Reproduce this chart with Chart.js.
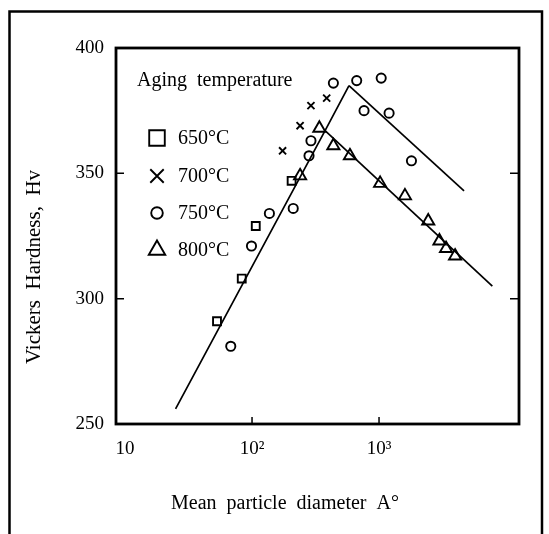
<!DOCTYPE html>
<html>
<head>
<meta charset="utf-8">
<script src="https://cdn.jsdelivr.net/npm/chart.js@4/dist/chart.umd.min.js"></script>
<style>
  html, body { margin: 0; padding: 0; background: #fff; }
  #wrap { width: 549px; height: 534px; position: relative; }
</style>
</head>
<body>
<div id="wrap"><canvas id="c" width="549" height="534"></canvas></div>
<script>
// ---- data ----
const xTickValues = [10, 100, 1000];
const xTickLabels = ['10', '10²', '10³'];
const yTickValues = [250, 300, 350, 400];

const legendTitle = 'Aging  temperature';
const seriesNames = ['650°C', '700°C', '750°C', '800°C'];

const s650_x = [53, 83, 107, 205];
const s650_y = [291, 308, 329, 347];

const s700_x = [174, 239, 291, 387];
const s700_y = [359, 369, 377, 380];

const s750_x = [68, 99, 137, 211, 281, 291, 437, 667, 1040, 762, 1200, 1800];
const s750_y = [281, 321, 334, 336, 357, 363, 386, 387, 388, 375, 374, 355];

const s800_x = [239, 339, 437, 590, 1020, 1600, 2440, 2990, 3370, 3970];
const s800_y = [349, 368, 361, 357, 346, 341, 331, 323, 320, 317];

const riseLine_x = [25, 376, 580];
const riseLine_y = [256, 367, 385];
const upperFall_x = [580, 4670];
const upperFall_y = [385, 343];
const lowerFall_x = [376, 7800];
const lowerFall_y = [367, 305];

const xTitle = 'Mean  particle  diameter  A°';
const yTitle = 'Vickers  Hardness,  Hv';

// ---- helpers ----
const pts = (xs, ys) => xs.map((x, i) => ({x: x, y: ys[i]}));
const FONT = '"Liberation Serif", "DejaVu Serif", serif';

const markerStyles = [
  {pointStyle: 'rect', radius: 5.6, legendRadius: 11},
  {pointStyle: 'crossRot', radius: 5, legendRadius: 9.5},
  {pointStyle: 'circle', radius: 4.6, legendRadius: 5.8},
  {pointStyle: 'triangle', radius: 7, legendRadius: 9.5}
];
const seriesData = [pts(s650_x, s650_y), pts(s700_x, s700_y), pts(s750_x, s750_y), pts(s800_x, s800_y)];

const datasets = [];
[ [riseLine_x, riseLine_y], [upperFall_x, upperFall_y], [lowerFall_x, lowerFall_y] ].forEach(l => {
  datasets.push({
    data: pts(l[0], l[1]), showLine: true, pointRadius: 0, borderColor: '#000',
    borderWidth: 1.7, fill: false, tension: 0
  });
});
seriesData.forEach((d, i) => {
  datasets.push({
    label: seriesNames[i], data: d, showLine: false,
    pointStyle: markerStyles[i].pointStyle, pointRadius: markerStyles[i].radius,
    pointBorderColor: '#000', pointBackgroundColor: 'rgba(0,0,0,0)', pointBorderWidth: 1.9,
    pointHoverRadius: markerStyles[i].radius
  });
});

const decorPlugin = {
  id: 'decor',
  afterDraw(chart) {
    const ctx = chart.ctx;
    const a = chart.chartArea;
    const xs = chart.scales.x, ys = chart.scales.y;
    ctx.save();
    ctx.strokeStyle = '#000';
    // outer figure frame
    ctx.lineWidth = 2.5;
    ctx.beginPath();
    ctx.moveTo(9.5, 540); ctx.lineTo(9.5, 11.5); ctx.lineTo(542, 11.5); ctx.lineTo(542, 540);
    ctx.stroke();
    // plot frame
    ctx.lineWidth = 2.8;
    ctx.strokeRect(a.left, a.top, a.right - a.left, a.bottom - a.top);
    // inward ticks
    ctx.lineWidth = 1.5;
    ctx.beginPath();
    [300, 350].forEach(v => {
      const py = ys.getPixelForValue(v);
      ctx.moveTo(a.left, py); ctx.lineTo(a.left + 8, py);
      ctx.moveTo(a.right, py); ctx.lineTo(a.right - 9, py);
    });
    [100, 1000].forEach(v => {
      const px = xs.getPixelForValue(v);
      ctx.moveTo(px, a.bottom); ctx.lineTo(px, a.bottom - 7);
    });
    ctx.stroke();
    // axis titles
    ctx.fillStyle = '#000';
    ctx.font = '20px ' + FONT;
    ctx.textAlign = 'center';
    ctx.textBaseline = 'middle';
    ctx.fillText(xTitle, 285, 504);
    ctx.save();
    ctx.translate(34, 267);
    ctx.rotate(-Math.PI / 2);
    ctx.font = '21px ' + FONT;
    ctx.fillText(yTitle, 0, 0);
    ctx.restore();
    // legend
    ctx.textAlign = 'left';
    ctx.textBaseline = 'alphabetic';
    ctx.fillText(legendTitle, 137, 86);
    const rows = [138, 176, 213, 250];
    seriesNames.forEach((name, i) => {
      const st = markerStyles[i];
      ctx.lineWidth = 1.9;
      ctx.strokeStyle = '#000';
      ctx.fillStyle = 'rgba(0,0,0,0)';
      Chart.helpers.drawPoint(ctx, {pointStyle: st.pointStyle, radius: st.legendRadius, rotation: 0, borderWidth: 1.9}, 157, rows[i]);
      ctx.fillStyle = '#000';
      ctx.textBaseline = 'middle';
      ctx.fillText(name, 178, rows[i] + 1);
    });
    ctx.restore();
  }
};

new Chart(document.getElementById('c'), {
  type: 'scatter',
  data: {datasets: datasets},
  options: {
    responsive: false,
    animation: false,
    events: [],
    layout: {padding: {top: 48, right: 30, bottom: 0, left: 0}},
    plugins: {legend: {display: false}, tooltip: {enabled: false}, title: {display: false}},
    scales: {
      x: {
        type: 'logarithmic',
        min: 8.49,
        max: 12650,
        afterBuildTicks: (s) => { s.ticks = xTickValues.map(v => ({value: v})); },
        afterFit: (s) => { s.height = 110; },
        ticks: {
          autoSkip: false, maxRotation: 0, padding: 14, color: '#000',
          font: {family: FONT, size: 19},
          callback: (v) => { const i = xTickValues.indexOf(v); return i >= 0 ? xTickLabels[i] : ''; }
        },
        grid: {display: false, drawTicks: false},
        border: {display: false}
      },
      y: {
        type: 'linear',
        min: 250, max: 400,
        afterBuildTicks: (s) => { s.ticks = yTickValues.map(v => ({value: v})); },
        afterFit: (s) => { s.width = 116; },
        ticks: {padding: 12, color: '#000', font: {family: FONT, size: 19}},
        grid: {display: false, drawTicks: false},
        border: {display: false}
      }
    }
  },
  plugins: [decorPlugin]
});
</script>
</body>
</html>
